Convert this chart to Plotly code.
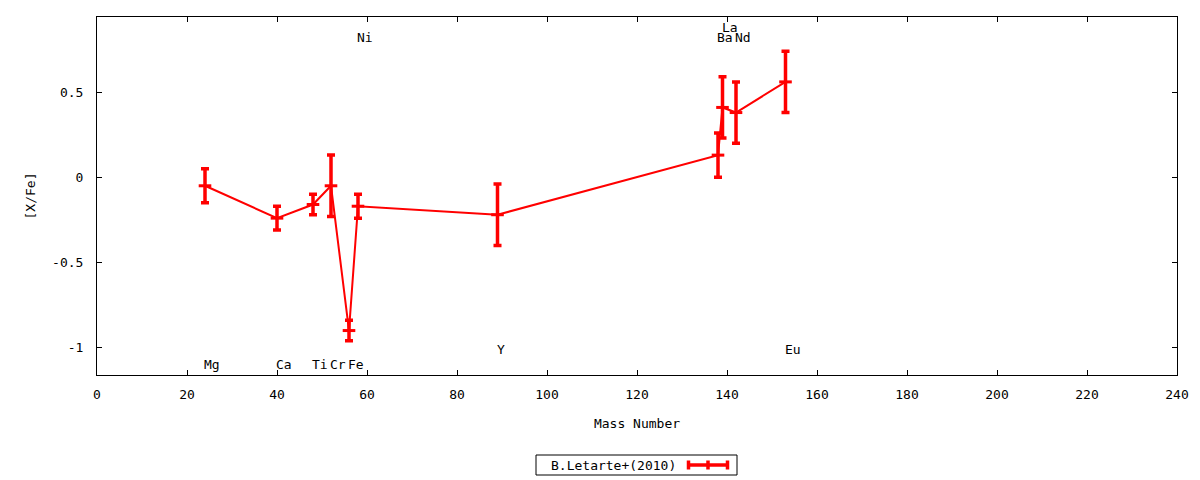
import plotly.graph_objects as go

# ---- data ----
elements = ["Mg", "Ca", "Ti", "Cr", "Fe", "Ni", "Y", "Ba", "La", "Nd", "Eu"]
mass_number = [24, 40, 48, 52, 56, 58, 89, 138, 139, 142, 153]
x_fe = [-0.05, -0.24, -0.16, -0.05, -0.90, -0.17, -0.22, 0.13, 0.41, 0.38, 0.56]
x_fe_err = [0.10, 0.07, 0.06, 0.18, 0.06, 0.07, 0.18, 0.13, 0.18, 0.18, 0.18]
label_y = [-1.10, -1.10, -1.10, -1.10, -1.10, 0.82, -1.01, 0.82, 0.88, 0.82, -1.01]
series_name = "B.Letarte+(2010)"

x_ticks = list(range(0, 241, 20))
y_tickvals = [-1, -0.5, 0, 0.5]
y_ticktext = ["-1", "-0.5", "0", "0.5"]

FONT = "DejaVu Sans Mono"
RED = "#ff0000"

fig = go.Figure()
fig.add_trace(go.Scatter(
    x=mass_number, y=x_fe, mode="lines+markers", name=series_name,
    line=dict(color=RED, width=2),
    marker=dict(symbol="line-ew", size=9, color=RED, line=dict(color=RED, width=3)),
    error_y=dict(type="data", array=x_fe_err, visible=True, color=RED, thickness=3.5, width=4),
    showlegend=False,
))

annotations = []
for name, xm, ly in zip(elements, mass_number, label_y):
    annotations.append(dict(x=xm, y=ly, xref="x", yref="y", text=name, showarrow=False,
                            xanchor="left", yanchor="middle", xshift=-3,
                            font=dict(family=FONT, size=13, color="black")))

# custom gnuplot-style legend (text left, sample right); pixel positions relative to plot box
PL, PR, PT, PB = 97, 1177, 17, 375
def px(x):
    return (x - PL) / (PR - PL)
def py(y):
    return (PB - y) / (PB - PT)

shapes = [
    dict(type="rect", xref="paper", yref="paper", x0=px(536), x1=px(737), y0=py(475), y1=py(455),
         line=dict(color="black", width=1), fillcolor="white", layer="above"),
    dict(type="line", xref="paper", yref="paper", x0=px(687), x1=px(729), y0=py(465), y1=py(465),
         line=dict(color=RED, width=3.5)),
]
for cx in (688.5, 708, 727.5):
    shapes.append(dict(type="line", xref="paper", yref="paper", x0=px(cx), x1=px(cx),
                       y0=py(469.5), y1=py(460.5), line=dict(color=RED, width=3.5)))
annotations.append(dict(x=px(678), y=py(465), xref="paper", yref="paper", text=series_name,
                        showarrow=False, xanchor="right", yanchor="middle",
                        font=dict(family=FONT, size=13, color="black")))

axis_common = dict(showline=True, linecolor="black", linewidth=1, mirror="allticks",
                   ticks="inside", ticklen=5, tickcolor="black", tickwidth=1,
                   showgrid=False, zeroline=False,
                   tickfont=dict(family=FONT, size=13, color="black"))

fig.update_layout(
    width=1200, height=480,
    margin=dict(l=89, r=31, t=9, b=113),
    paper_bgcolor="white", plot_bgcolor="white",
    font=dict(family=FONT, size=13, color="black"),
    xaxis=dict(range=[0, 240], tickvals=x_ticks, ticklabelstandoff=7,
               title=dict(text="Mass Number", standoff=18, font=dict(family=FONT, size=13)),
               **axis_common),
    yaxis=dict(range=[-1.161, 0.941], tickvals=y_tickvals, ticktext=y_ticktext, ticklabelstandoff=10,
               title=dict(text="[X/Fe]", standoff=13, font=dict(family=FONT, size=13)),
               **axis_common),
    annotations=annotations,
    shapes=shapes,
    showlegend=False,
)

fig.write_html("out.html")
